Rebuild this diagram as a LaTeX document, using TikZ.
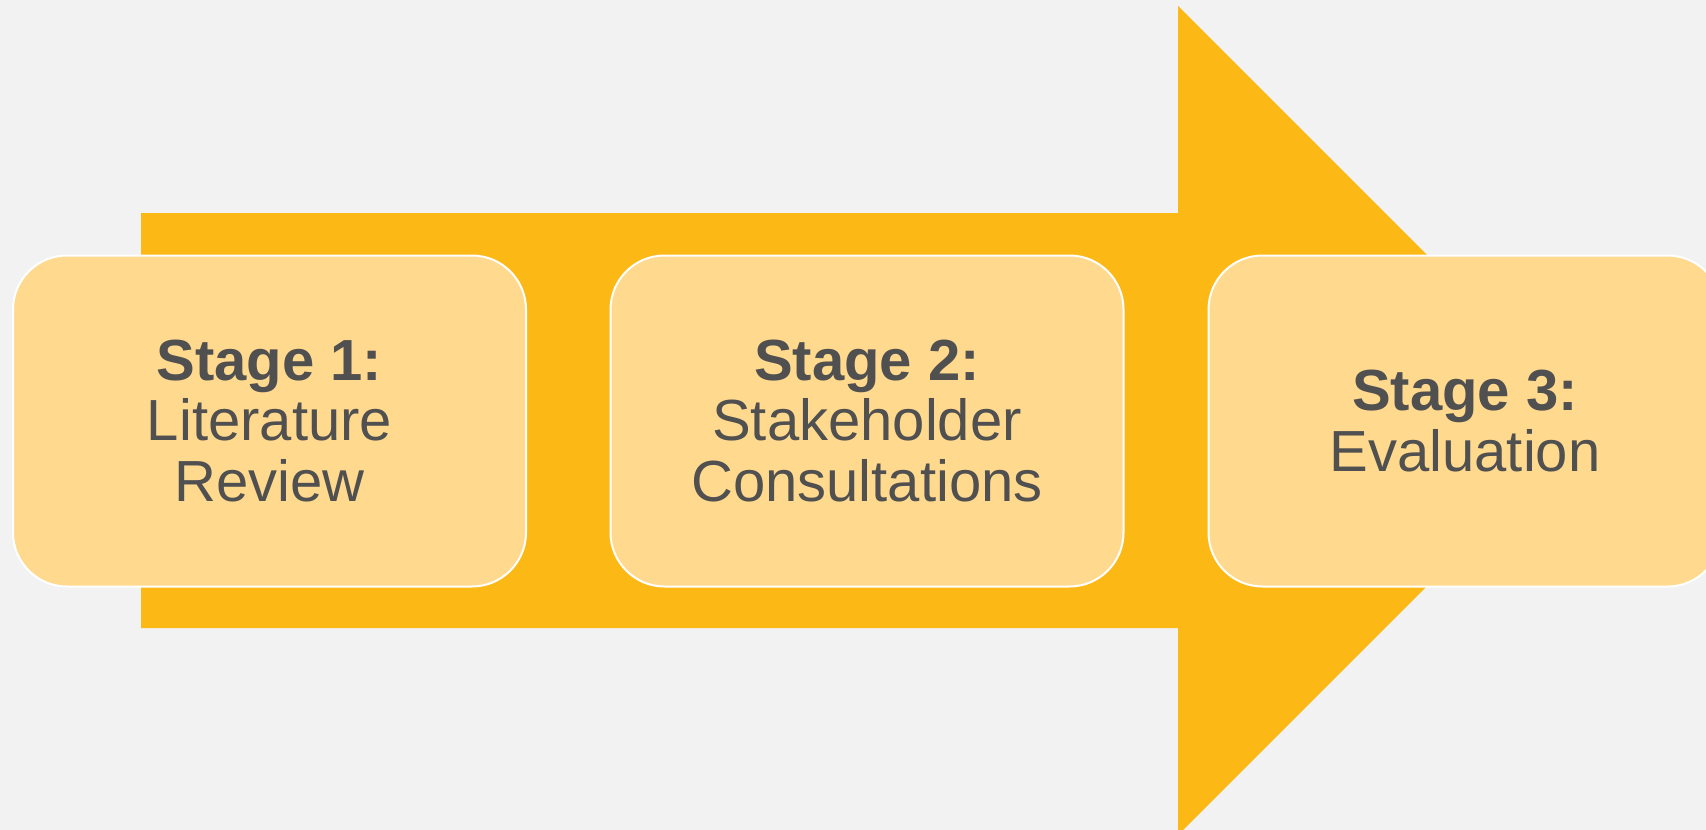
\documentclass[tikz,border=0pt]{standalone}
\usepackage{fontspec}
\setmainfont{Liberation Sans}
\definecolor{bgc}{HTML}{F2F2F2}
\definecolor{arrowc}{HTML}{FCB916}
\definecolor{boxc}{HTML}{FFD98E}
\definecolor{txtc}{HTML}{505050}
\tikzset{
  stagebox/.style={draw=white, line width=2pt, fill=boxc, rounded corners=54pt,
    minimum width=513pt, minimum height=331pt, inner sep=0pt, align=center,
    text=txtc, font=\fontsize{58}{60.5}\selectfont}
}
\begin{document}
\begin{tikzpicture}[x=1pt,y=-1pt]
\useasboundingbox (0,0) rectangle (1706,830);
\clip (0,0) rectangle (1706,830);
\fill[bgc] (0,0) rectangle (1706,830);
% big arrow
\fill[arrowc] (141,213) -- (1178,213) -- (1178,6) -- (1592.5,420.5)
  -- (1178,835) -- (1178,628) -- (141,628) -- cycle;
% stage boxes
\node[stagebox] (s1) at (269.5,421) {{\bfseries Stage 1:}\\Literature\\Review};
\node[stagebox] (s2) at (867,421) {{\bfseries Stage 2:}\\Stakeholder\\Consultations};
\node[stagebox] (s3) at (1465,421) {{\bfseries Stage 3:}\\Evaluation};
\end{tikzpicture}
\end{document}
